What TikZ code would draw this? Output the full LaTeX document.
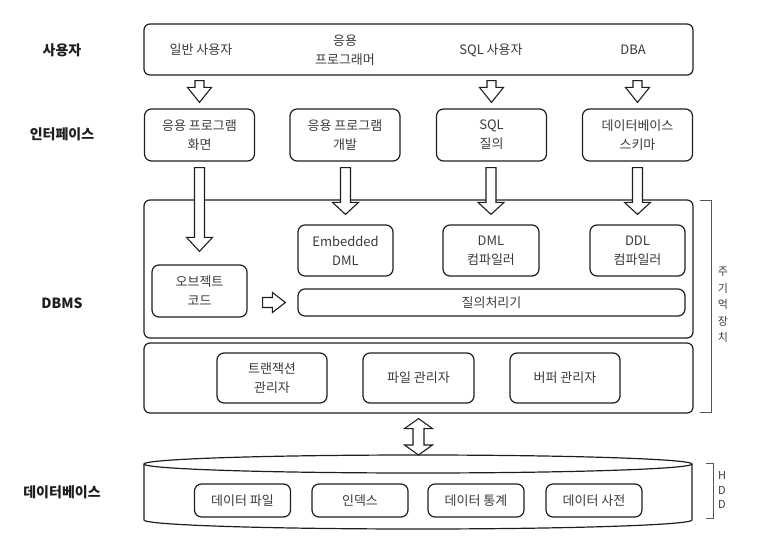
\documentclass[tikz,border=0pt]{standalone}
\usepackage{fontspec}
\setmainfont{Noto Sans CJK KR}
\usetikzlibrary{calc}
\definecolor{ink} {HTML}{1E1E1E}
\definecolor{txt} {HTML}{3A3A3A}
\definecolor{rule}{HTML}{555555}

% hollow block arrows: from, to, head length, shaft half width, head half width
\newcommand\blkdown[5]{\draw[blk] let \p1=(#1), \p2=(#2) in
  (\x2-#4pt,\y1) -- (\x2-#4pt,\y2+#3pt) -- (\x2-#5pt,\y2+#3pt) -- (\x2,\y2)
  -- (\x2+#5pt,\y2+#3pt) -- (\x2+#4pt,\y2+#3pt) -- (\x2+#4pt,\y1) -- cycle;}
\newcommand\blkright[5]{\draw[blk] let \p1=(#1), \p2=(#2) in
  (\x1,\y2+#4pt) -- (\x2-#3pt,\y2+#4pt) -- (\x2-#3pt,\y2+#5pt) -- (\x2,\y2)
  -- (\x2-#3pt,\y2-#5pt) -- (\x2-#3pt,\y2-#4pt) -- (\x1,\y2-#4pt) -- cycle;}
\newcommand\blkboth[5]{\draw[blk] let \p1=(#1), \p2=(#2) in
  (\x1,\y1) -- (\x1+#5pt,\y1-#3pt) -- (\x1+#4pt,\y1-#3pt) -- (\x1+#4pt,\y2+#3pt)
  -- (\x1+#5pt,\y2+#3pt) -- (\x1,\y2) -- (\x1-#5pt,\y2+#3pt) -- (\x1-#4pt,\y2+#3pt)
  -- (\x1-#4pt,\y1-#3pt) -- (\x1-#5pt,\y1-#3pt) -- cycle;}

\begin{document}
\begin{tikzpicture}[x=1pt,y=-1pt,font=\fontsize{13}{19}\selectfont,text=txt,
  lane/.style={font=\fontsize{14}{17}\selectfont\bfseries,text=ink},
  tier/.style={draw=ink,line width=1.2pt,rounded corners=6pt,minimum width=549},
  box/.style={draw=ink,line width=1.2pt,rounded corners=7pt,align=center,
              inner sep=2pt},
  blk/.style={draw=ink,fill=white,line width=1.1pt,line join=miter},
  brk/.style={draw=rule,line width=0.8pt}]
  \useasboundingbox (0,0) rectangle (766,557);

  % layer names
  \foreach \n/\t/\y in {lu/사용자/50,li/인터페이스/134,ld/DBMS/303,lb/데이터베이스/492}
    \node[lane] (\n) at (62,\y) {\t};

  % users
  \node[tier,minimum height=51] (users) at (418.5,49.5) {};
  \foreach \n/\x/\t in {u1/201/{일반 사용자},u2/345/{응용\\프로그래머},
                        u3/491/{SQL 사용자},u4/633/{DBA}}
    \node[align=center] (\n) at (\x,50) {\t};

  % interfaces
  \foreach \n/\x/\t in {i1/199.5/{응용 프로그램\\화면},i2/345/{응용 프로그램\\개발},
                        i3/491.5/{SQL\\질의},i4/637.5/{데이터베이스\\스키마}}
    \node[box,minimum width=110,minimum height=52] (\n) at (\x,135) {\t};
  \foreach \i in {i1,i3,i4}
    {\blkdown{$(users.south -| \i)+(0,5)$}{$(\i.north)+(0,-6)$}{15}{4.5}{12}}

  % DBMS
  \node[tier,minimum height=138] (dbms) at (418.5,269) {};
  \node[tier,minimum height=70]  (mgr)  at (418.5,378) {};
  \node[box,minimum width=95,minimum height=51] (emb) at (345.5,250.5) {Embedded\\DML};
  \node[box,minimum width=96,minimum height=51] (dml) at (491,250.5) {DML\\컴파일러};
  \node[box,minimum width=95,minimum height=51] (ddl) at (637.5,250.5) {DDL\\컴파일러};
  \node[box,minimum width=387,minimum height=27] (qp) at (491.5,302.5) {질의처리기};
  \node[box,minimum width=95,minimum height=52] (obj) at (199.5,291) {오브젝트\\코드};
  \node[box,minimum width=110,minimum height=50] (tm) at (272,378) {트랜잭션\\관리자};
  \node[box,minimum width=111,minimum height=50] (fm) at (418.5,378) {파일 관리자};
  \node[box,minimum width=110,minimum height=50] (bm) at (565,378) {버퍼 관리자};

  \blkdown{$(i1.south)+(0,6)$}{$(obj.north)+(0,-13)$}{14}{5}{13}
  \foreach \i/\o in {i2/emb,i3/dml,i4/ddl}
    {\blkdown{$(\i.south)+(0,6)$}{$(\o.north)+(0,-10)$}{12}{5}{13}}
  \blkright{$(obj.east)+(15,0)$}{$(qp.west)+(-12,0)$}{13}{5}{10}

  % database
  \draw[ink,line width=1.2pt] (418,464) ellipse[x radius=274,y radius=9];
  \draw[ink,line width=1.2pt] (144,464) -- (144,520)
    arc[start angle=180,end angle=0,x radius=274,y radius=9] -- (692,464);
  \coordinate (dbtop) at (418,455);
  \blkboth{$(mgr.south)+(0,5)$}{dbtop}{10}{5.5}{14}
  \foreach \n/\x/\t in {df/242.5/{데이터 파일},ix/360/{인덱스},
                        st/476/{데이터 통계},dc/594/{데이터 사전}}
    \node[box,minimum width=96,minimum height=33] (\n) at (\x,500.5) {\t};

  % storage brackets
  \draw[brk] (700,200) -- (711,200) -- (711,412) -- (700,412);
  \node[font=\fontsize{11}{16.5}\selectfont,align=center] (mem) at (723,305)
    {주\\기\\억\\장\\치};
  \draw[brk] (706,463) -- (713,463) -- (713,518) -- (706,518);
  \node[font=\fontsize{11}{14.5}\selectfont,align=center] (hdd) at (722,490)
    {H\\D\\D};
\end{tikzpicture}
\end{document}
